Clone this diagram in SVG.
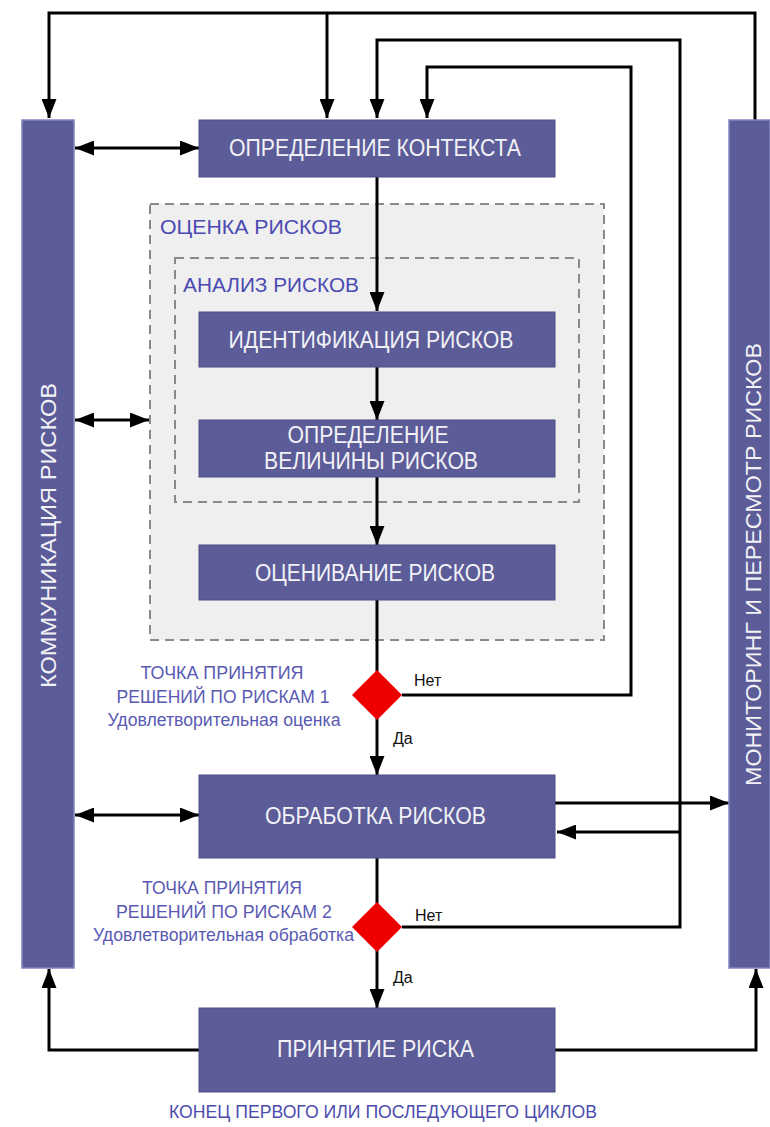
<svg xmlns="http://www.w3.org/2000/svg" width="770" height="1127" viewBox="0 0 770 1127">
<defs>
<style>
.box{fill:#5c5c99;stroke:#4d4d88;stroke-width:1}
.bar{fill:#5c5c99;stroke:#7f86c0;stroke-width:1.5}
.bt{font-family:"Liberation Sans",Arial,sans-serif;font-size:23px;fill:#f2f2f6;text-anchor:middle}
.vt{font-family:"Liberation Sans",Arial,sans-serif;font-size:22px;fill:#f2f2f6;text-anchor:middle}
.zone{fill:#efefef;stroke:#8a8a8a;stroke-width:2;stroke-dasharray:9 6}
.zl{font-family:"Liberation Sans",Arial,sans-serif;font-size:20px;fill:#4a4ab2}
.dl{font-family:"Liberation Sans",Arial,sans-serif;font-size:17.5px;fill:#5a5ab4;text-anchor:middle}
.yn{font-family:"Liberation Sans",Arial,sans-serif;font-size:16px;fill:#111}
.c{fill:none;stroke:#000;stroke-width:3}
.dia{fill:#ee0000}
</style>
<marker id="ah" markerUnits="userSpaceOnUse" markerWidth="19" markerHeight="15" refX="19" refY="7.5" orient="auto-start-reverse">
<path d="M0,0 L19,7.5 L0,15 z" fill="#000"/>
</marker>
</defs>
<rect width="770" height="1127" fill="#fff"/>

<g id="zone-assessment">
<rect class="zone" x="150" y="204" width="454" height="436"/>
<text class="zl" x="160" y="234" textLength="182" lengthAdjust="spacingAndGlyphs">ОЦЕНКА РИСКОВ</text>
</g>
<g id="zone-analysis">
<rect class="zone" x="175" y="258" width="404" height="244"/>
<text class="zl" x="183" y="292" textLength="176" lengthAdjust="spacingAndGlyphs">АНАЛИЗ РИСКОВ</text>
</g>

<g id="connectors">
<path class="c" d="M755,120 V13 H49 V118" marker-end="url(#ah)"/>
<path class="c" d="M327,13 V118" marker-end="url(#ah)"/>
<path class="c" d="M402,927 H680 V40 H377 V118" marker-end="url(#ah)"/>
<path class="c" d="M680,832 H557" marker-end="url(#ah)"/>
<path class="c" d="M402,695 H631 V67 H427 V118" marker-end="url(#ah)"/>
<path class="c" d="M377,177 V311" marker-end="url(#ah)"/>
<path class="c" d="M377,367 V420" marker-end="url(#ah)"/>
<path class="c" d="M377,477 V545" marker-end="url(#ah)"/>
<path class="c" d="M377,600 V672"/>
<path class="c" d="M377,718 V775" marker-end="url(#ah)"/>
<path class="c" d="M377,858 V904"/>
<path class="c" d="M377,950 V1008" marker-end="url(#ah)"/>
<path class="c" d="M555,803 H729" marker-end="url(#ah)"/>
<path class="c" d="M75,148 H199" marker-start="url(#ah)" marker-end="url(#ah)"/>
<path class="c" d="M75,420 H149" marker-start="url(#ah)" marker-end="url(#ah)"/>
<path class="c" d="M75,815 H199" marker-start="url(#ah)" marker-end="url(#ah)"/>
<path class="c" d="M199,1050 H49 V969" marker-end="url(#ah)"/>
<path class="c" d="M555,1050 H756 V969" marker-end="url(#ah)"/>
</g>

<g id="communication">
<rect class="bar" x="22" y="120" width="52" height="848"/>
<text class="vt" transform="translate(55.5,535.5) rotate(-90)" textLength="305" lengthAdjust="spacingAndGlyphs">КОММУНИКАЦИЯ РИСКОВ</text>
</g>
<g id="monitoring">
<rect class="bar" x="729" y="120" width="41" height="848"/>
<text class="vt" transform="translate(761,564.5) rotate(-90)" textLength="443" lengthAdjust="spacingAndGlyphs">МОНИТОРИНГ И ПЕРЕСМОТР РИСКОВ</text>
</g>

<g id="context">
<rect class="box" x="199" y="120" width="356" height="57"/>
<text class="bt" x="375" y="156" textLength="292" lengthAdjust="spacingAndGlyphs">ОПРЕДЕЛЕНИЕ КОНТЕКСТА</text>
</g>
<g id="identification">
<rect class="box" x="199" y="312" width="356" height="55"/>
<text class="bt" x="371" y="348" textLength="285" lengthAdjust="spacingAndGlyphs">ИДЕНТИФИКАЦИЯ РИСКОВ</text>
</g>
<g id="magnitude">
<rect class="box" x="199" y="420" width="356" height="57"/>
<text class="bt" x="368" y="443" textLength="161" lengthAdjust="spacingAndGlyphs">ОПРЕДЕЛЕНИЕ</text>
<text class="bt" x="371" y="469" textLength="214" lengthAdjust="spacingAndGlyphs">ВЕЛИЧИНЫ РИСКОВ</text>
</g>
<g id="evaluation">
<rect class="box" x="199" y="545" width="356" height="55"/>
<text class="bt" x="375" y="581" textLength="240" lengthAdjust="spacingAndGlyphs">ОЦЕНИВАНИЕ РИСКОВ</text>
</g>

<g id="decision1">
<polygon class="dia" points="377,670 402,695 377,720 352,695"/>
<text class="dl" x="222" y="679" textLength="163" lengthAdjust="spacingAndGlyphs">ТОЧКА ПРИНЯТИЯ</text>
<text class="dl" x="223" y="703" textLength="213" lengthAdjust="spacingAndGlyphs">РЕШЕНИЙ ПО РИСКАМ 1</text>
<text class="dl" x="224" y="726" textLength="233" lengthAdjust="spacingAndGlyphs">Удовлетворительная оценка</text>
<text class="yn" x="414" y="686">Нет</text>
<text class="yn" x="393" y="744">Да</text>
</g>

<g id="treatment">
<rect class="box" x="199" y="775" width="356" height="83"/>
<text class="bt" x="375.5" y="824" textLength="221" lengthAdjust="spacingAndGlyphs">ОБРАБОТКА РИСКОВ</text>
</g>

<g id="decision2">
<polygon class="dia" points="377,902 402,927 377,952 352,927"/>
<text class="dl" x="222" y="894" textLength="160" lengthAdjust="spacingAndGlyphs">ТОЧКА ПРИНЯТИЯ</text>
<text class="dl" x="224" y="918" textLength="216" lengthAdjust="spacingAndGlyphs">РЕШЕНИЙ ПО РИСКАМ 2</text>
<text class="dl" x="223.5" y="941" textLength="261" lengthAdjust="spacingAndGlyphs">Удовлетворительная обработка</text>
<text class="yn" x="415" y="921">Нет</text>
<text class="yn" x="393" y="983">Да</text>
</g>

<g id="acceptance">
<rect class="box" x="199" y="1008" width="356" height="84"/>
<text class="bt" x="375.5" y="1057" textLength="197" lengthAdjust="spacingAndGlyphs">ПРИНЯТИЕ РИСКА</text>
</g>

<g id="end-note">
<text class="dl" x="383" y="1118" style="fill:#4c4cae;font-size:18px" textLength="428" lengthAdjust="spacingAndGlyphs">КОНЕЦ ПЕРВОГО ИЛИ ПОСЛЕДУЮЩЕГО ЦИКЛОВ</text>
</g>
</svg>
